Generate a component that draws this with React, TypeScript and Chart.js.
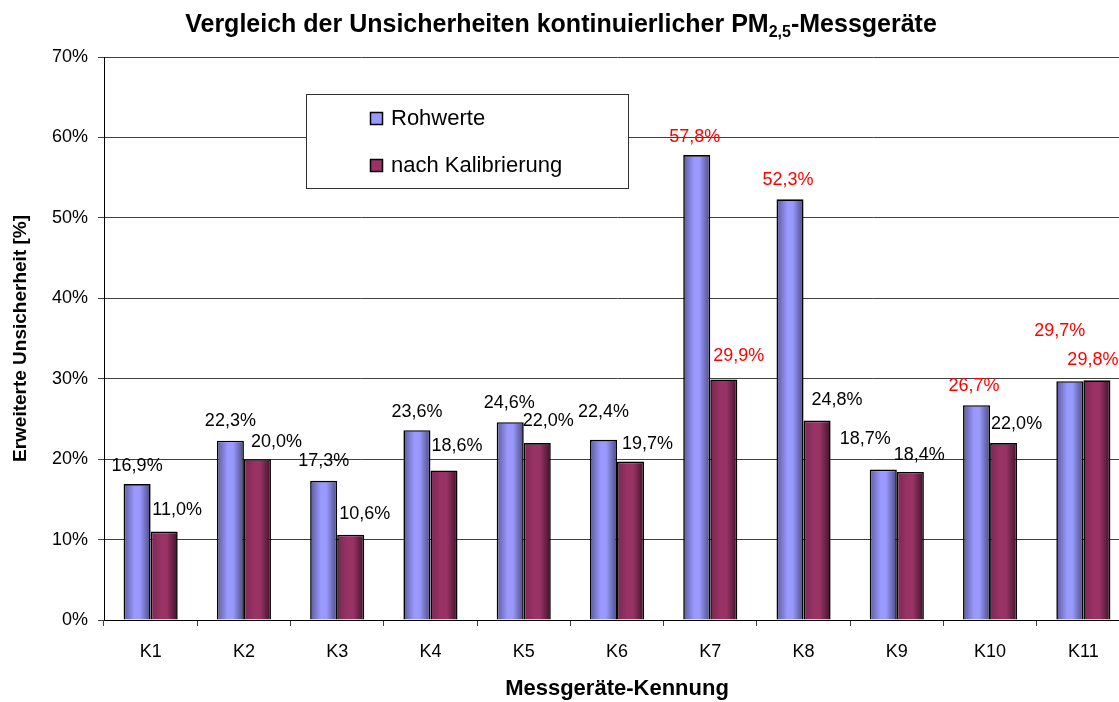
import React, { useEffect, useRef } from "react";
import { Chart, registerables } from "chart.js";

Chart.register(...registerables);

// ---- data ----
const categories = ["K1", "K2", "K3", "K4", "K5", "K6", "K7", "K8", "K9", "K10", "K11"];
const rohwerte = [16.9, 22.3, 17.3, 23.6, 24.6, 22.4, 57.8, 52.3, 18.7, 26.7, 29.7];
const kalibriert = [11.0, 20.0, 10.6, 18.6, 22.0, 19.7, 29.9, 24.8, 18.4, 22.0, 29.8];
const seriesNames = ["Rohwerte", "nach Kalibrierung"];
const yTickValues = [0, 10, 20, 30, 40, 50, 60, 70];
const highlightRoh = [false, false, false, false, false, false, true, true, false, true, true];
const highlightKal = [false, false, false, false, false, false, true, false, false, false, true];

const titleMain = "Vergleich der Unsicherheiten kontinuierlicher PM";
const titleSub = "2,5";
const titleEnd = "-Messgeräte";
const yTitle = "Erweiterte Unsicherheit [%]";
const xTitle = "Messgeräte-Kennung";

// ---- styles ----
const FONT = "'Liberation Sans', Arial, sans-serif";
const seriesColors = [
  { dark: "#5a5a9a", light: "#9999ff", darker: "#4a4a80", flat: "#9999ff" },
  { dark: "#7a2852", light: "#993366", darker: "#3e1228", flat: "#993366" },
];
// label placement: [dx, distance above bar top] in px
const labelShift = [
  [[0, 18], [0, 20], [0, 20], [0, 18.5], [-1, 19], [0, 28], [-2, 18.5], [-2, 19], [-18, 31], [-2.5, 19], [-10, 50]],
  [[13, 21.5], [19, 17.5], [14, 21], [13, 24], [11, 22], [17, 18], [15, 23], [20, 20.5], [9, 17], [13, 19], [-4, 20]],
];

const fmt = (v: number) => v.toFixed(1).replace(".", ",") + "%";

const gradientPlugin = {
  id: "barGradient",
  beforeDatasetsDraw(chart: any) {
    const ctx = chart.ctx;
    chart.data.datasets.forEach((_: any, di: number) => {
      const meta = chart.getDatasetMeta(di);
      const c = seriesColors[di];
      meta.data.forEach((el: any) => {
        const x0 = el.x - el.width / 2;
        const x1 = el.x + el.width / 2;
        const g = ctx.createLinearGradient(x0, 0, x1, 0);
        g.addColorStop(0, c.dark);
        g.addColorStop(0.4, c.light);
        g.addColorStop(0.6, c.light);
        g.addColorStop(1, c.darker);
        el.options = { ...el.options, backgroundColor: g };
      });
    });
  },
};

const labelPlugin = {
  id: "valueLabels",
  afterDatasetsDraw(chart: any) {
    const ctx = chart.ctx;
    ctx.save();
    ctx.font = `18px ${FONT}`;
    ctx.textAlign = "center";
    ctx.textBaseline = "middle";
    chart.data.datasets.forEach((ds: any, di: number) => {
      const meta = chart.getDatasetMeta(di);
      const hl = di === 0 ? highlightRoh : highlightKal;
      meta.data.forEach((el: any, i: number) => {
        const [dx, dy] = labelShift[di][i];
        ctx.fillStyle = hl[i] ? "#ff0000" : "#000000";
        ctx.fillText(fmt(ds.data[i]), el.x + dx, el.y - dy);
      });
    });
    ctx.restore();
  },
};

const titlePlugin = {
  id: "subTitle",
  afterDraw(chart: any) {
    const ctx = chart.ctx;
    ctx.save();
    const big = `bold 25px ${FONT}`;
    const small = `bold 16px ${FONT}`;
    ctx.font = big;
    const w1 = ctx.measureText(titleMain).width;
    const w3 = ctx.measureText(titleEnd).width;
    ctx.font = small;
    const w2 = ctx.measureText(titleSub).width;
    const total = w1 + w2 + w3;
    let x = 561 - total / 2;
    const y = 32;
    ctx.fillStyle = "#000";
    ctx.textBaseline = "alphabetic";
    ctx.textAlign = "left";
    ctx.font = big;
    ctx.fillText(titleMain, x, y);
    x += w1;
    ctx.font = small;
    ctx.fillText(titleSub, x, y + 5);
    x += w2;
    ctx.font = big;
    ctx.fillText(titleEnd, x, y);
    ctx.restore();
  },
};

const legendPlugin = {
  id: "boxLegend",
  afterDraw(chart: any) {
    const ctx = chart.ctx;
    ctx.save();
    ctx.fillStyle = "#ffffff";
    ctx.fillRect(306, 94, 322, 94);
    ctx.strokeStyle = "#303030";
    ctx.lineWidth = 1;
    ctx.strokeRect(306.5, 94.5, 322, 94);
    const rows = [119, 166];
    ctx.font = `22px ${FONT}`;
    ctx.textBaseline = "middle";
    ctx.textAlign = "left";
    chart.data.datasets.forEach((ds: any, di: number) => {
      const y = rows[di];
      ctx.fillStyle = seriesColors[di].flat;
      ctx.fillRect(370, y - 7, 13, 13);
      ctx.strokeStyle = "#000";
      ctx.lineWidth = 1.5;
      ctx.strokeRect(370.5, y - 6.5, 12, 12);
      ctx.fillStyle = "#000";
      ctx.fillText(ds.label, 391, y);
    });
    ctx.restore();
  },
};

export default function App() {
  const ref = useRef<HTMLCanvasElement | null>(null);

  useEffect(() => {
    if (!ref.current) return;
    const chart = new Chart(ref.current, {
      type: "bar",
      data: {
        labels: categories,
        datasets: [
          { label: seriesNames[0], data: rohwerte, borderColor: "#000", borderWidth: 1.6, backgroundColor: seriesColors[0].flat },
          { label: seriesNames[1], data: kalibriert, borderColor: "#000", borderWidth: 1.6, backgroundColor: seriesColors[1].flat },
        ],
      },
      options: {
        responsive: false,
        animation: false,
        events: [],
        devicePixelRatio: 1,
        layout: { padding: { top: 57, right: 5, left: 0, bottom: 0 } },
        datasets: { bar: { barPercentage: 1, categoryPercentage: 0.58 } },
        plugins: { legend: { display: false }, title: { display: false }, tooltip: { enabled: false } },
        scales: {
          x: {
            afterFit: (s: any) => { s.height = 82; },
            grid: { display: true, drawOnChartArea: false, drawTicks: true, tickLength: 6, offset: true, color: "#404040" },
            border: { color: "#000", width: 1 },
            ticks: { color: "#000", font: { family: FONT, size: 18 }, padding: 15, maxRotation: 0 },
            title: { display: true, text: xTitle, color: "#000", font: { family: FONT, size: 22, weight: "bold" }, padding: { top: 0, bottom: 0 } },
          },
          y: {
            min: 0,
            max: 70,
            afterFit: (s: any) => { s.width = 104; },
            afterBuildTicks: (s: any) => { s.ticks = yTickValues.map((v) => ({ value: v })); },
            grid: { color: "#404040", lineWidth: 1, tickLength: 6, drawTicks: true },
            border: { color: "#000", width: 1 },
            ticks: { color: "#000", font: { family: FONT, size: 18 }, padding: 10, callback: (v: any) => v + "%" },
            title: { display: true, text: yTitle, color: "#000", font: { family: FONT, size: 19, weight: "bold" }, padding: { top: 9, bottom: 0 } },
          },
        },
      },
      plugins: [gradientPlugin, labelPlugin, titlePlugin, legendPlugin],
    });
    return () => chart.destroy();
  }, []);

  return (
    <div style={{ position: "fixed", left: 0, top: 0, width: 1119, height: 702, overflow: "hidden", background: "#fff" }}>
      <canvas ref={ref} width={1135} height={702} style={{ display: "block", width: 1135, height: 702 }} />
    </div>
  );
}
